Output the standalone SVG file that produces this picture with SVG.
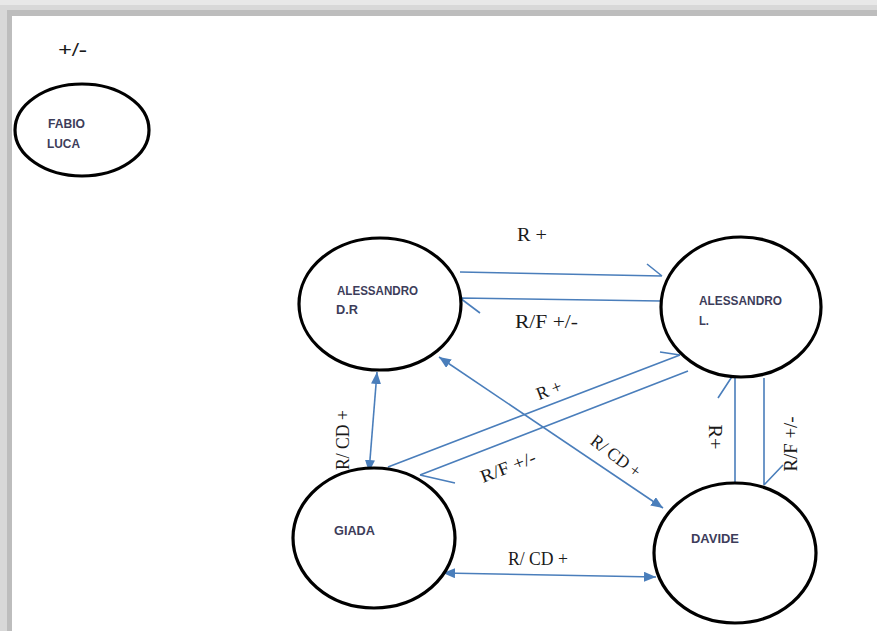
<svg xmlns="http://www.w3.org/2000/svg" width="877" height="631" viewBox="0 0 877 631">
  <defs>
    <style>
      .node { fill: #ffffff; stroke: #000000; stroke-width: 3.2; }
      .nlabel { font-family: "Liberation Sans", Arial, sans-serif; font-weight: bold; font-size: 12.5px; fill: #3d3d5a; }
      .elabel { font-family: "Liberation Serif", "Times New Roman", serif; font-size: 18px; fill: #1a1a1a; }
      .conn { fill: none; stroke: #4a7ebb; stroke-width: 1.6; }
    </style>
    <marker id="tri" viewBox="0 0 12 10" refX="12" refY="5" markerWidth="12" markerHeight="10" markerUnits="userSpaceOnUse" orient="auto-start-reverse">
      <path d="M0,0 L12,5 L0,10 z" fill="#4a7ebb"/>
    </marker>
  </defs>

  <rect x="0" y="0" width="877" height="631" fill="#ffffff"/>
  <g id="frame">
    <rect x="0" y="0" width="877" height="5" fill="#e8e8e8"/>
    <rect x="0" y="5" width="877" height="5" fill="#d8d8d8"/>
    <rect x="7" y="10" width="870" height="6" fill="#bdbdbd"/>
    <rect x="0" y="5" width="7" height="626" fill="#d8d8d8"/>
    <rect x="7" y="10" width="5" height="621" fill="#bdbdbd"/>
  </g>

  <text class="elabel" x="58" y="56" font-size="19" font-weight="bold" textLength="29" lengthAdjust="spacingAndGlyphs">+/-</text>

  <g id="connectors">
    <path class="conn" d="M460,272 L662,276 M647,264 L662,276"/>
    <path class="conn" d="M661,301 L460,298 M460,298 L480,313"/>
    <path class="conn" d="M377,372 L369,472" marker-start="url(#tri)" marker-end="url(#tri)"/>
    <path class="conn" d="M439,357 L663,508" marker-start="url(#tri)" marker-end="url(#tri)"/>
    <path class="conn" d="M388,467 L680,355 M660,352 L680,355"/>
    <path class="conn" d="M688,371 L420,475 M420,475 L455,483"/>
    <path class="conn" d="M735,491 L735,372 M718,398 L735,372"/>
    <path class="conn" d="M764,378 L764,485 M764,485 L783,465"/>
    <path class="conn" d="M443,573 L656,577" marker-start="url(#tri)" marker-end="url(#tri)"/>
  </g>

  <g id="edge-labels">
    <text class="elabel" x="517" y="241" textLength="30" lengthAdjust="spacingAndGlyphs">R +</text>
    <text class="elabel" x="515" y="328" textLength="63" lengthAdjust="spacingAndGlyphs">R/F +/-</text>
    <text class="elabel" transform="translate(343,440) rotate(-90)" x="0" y="6" text-anchor="middle" textLength="60" lengthAdjust="spacingAndGlyphs">R/ CD +</text>
    <text class="elabel" transform="translate(549,390) rotate(-21)" x="0" y="6" text-anchor="middle" textLength="26" lengthAdjust="spacingAndGlyphs">R +</text>
    <text class="elabel" transform="translate(508,467) rotate(-21)" x="0" y="6" text-anchor="middle" textLength="58" lengthAdjust="spacingAndGlyphs">R/F +/-</text>
    <text class="elabel" transform="translate(616,456) rotate(37)" x="0" y="6" text-anchor="middle" textLength="58" lengthAdjust="spacingAndGlyphs">R/ CD +</text>
    <text class="elabel" transform="translate(715,437) rotate(90)" x="0" y="6" text-anchor="middle" textLength="25" lengthAdjust="spacingAndGlyphs">R+</text>
    <text class="elabel" transform="translate(791,444) rotate(-90)" x="0" y="6" text-anchor="middle" textLength="55" lengthAdjust="spacingAndGlyphs">R/F +/-</text>
    <text class="elabel" x="508" y="565" textLength="60" lengthAdjust="spacingAndGlyphs">R/ CD +</text>
  </g>

  <g id="node-fabio-luca">
    <ellipse class="node" cx="82" cy="130" rx="67" ry="46"/>
    <text class="nlabel" x="48" y="128" textLength="37" lengthAdjust="spacingAndGlyphs">FABIO</text>
    <text class="nlabel" x="47" y="148" textLength="33" lengthAdjust="spacingAndGlyphs">LUCA</text>
  </g>

  <g id="node-alessandro-dr">
    <ellipse class="node" cx="380" cy="304" rx="81" ry="66"/>
    <text class="nlabel" x="337" y="295" textLength="81" lengthAdjust="spacingAndGlyphs">ALESSANDRO</text>
    <text class="nlabel" x="336" y="314" textLength="22" lengthAdjust="spacingAndGlyphs">D.R</text>
  </g>

  <g id="node-alessandro-l">
    <ellipse class="node" cx="741" cy="307" rx="80" ry="70"/>
    <text class="nlabel" x="699" y="305" textLength="83" lengthAdjust="spacingAndGlyphs">ALESSANDRO</text>
    <text class="nlabel" x="699" y="325" textLength="10" lengthAdjust="spacingAndGlyphs">L.</text>
  </g>

  <g id="node-giada">
    <ellipse class="node" cx="374" cy="538" rx="81" ry="70"/>
    <text class="nlabel" x="334" y="535" textLength="41" lengthAdjust="spacingAndGlyphs">GIADA</text>
  </g>

  <g id="node-davide">
    <ellipse class="node" cx="735" cy="553" rx="81" ry="70"/>
    <text class="nlabel" x="691" y="543" textLength="48" lengthAdjust="spacingAndGlyphs">DAVIDE</text>
  </g>
</svg>
